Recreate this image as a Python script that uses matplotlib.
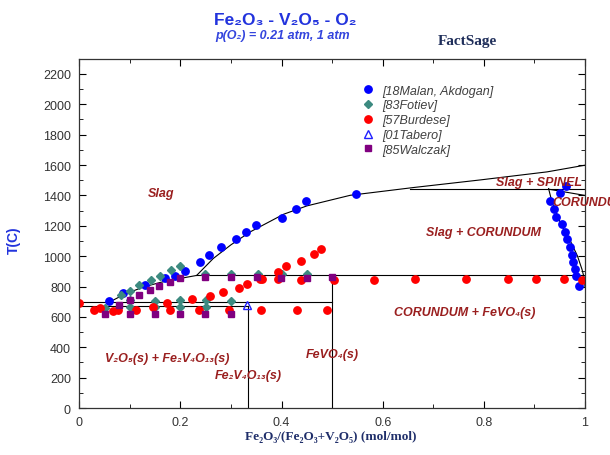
import numpy as np
import matplotlib
matplotlib.use('Agg')
import matplotlib.pyplot as plt
from matplotlib.ticker import MultipleLocator

plt.rcParams['font.family'] = ['Liberation Sans', 'DejaVu Sans']

# experimental points, x = Fe2O3/(Fe2O3+V2O5), T in C
malan_x = [0.058, 0.086, 0.129, 0.169, 0.190, 0.210, 0.238, 0.257, 0.280, 0.309,
           0.330, 0.350, 0.400, 0.429, 0.449, 0.548,
           0.930, 0.938, 0.942, 0.950, 0.955, 0.960, 0.963, 0.965, 0.970, 0.975,
           0.977, 0.980, 0.982, 0.989]
malan_t = [708, 757, 807, 856, 867, 905, 959, 1010, 1061, 1110,
           1160, 1207, 1254, 1311, 1362, 1410,
           1360, 1309, 1259, 1414, 1211, 1160, 1463, 1112, 1061, 1007,
           963, 914, 870, 805]

fotiev_x = [0.082, 0.100, 0.118, 0.141, 0.160, 0.182, 0.200,
            0.249, 0.300, 0.353, 0.400, 0.450,
            0.100, 0.150, 0.200, 0.250, 0.300,
            0.050, 0.100, 0.150, 0.200, 0.250]
fotiev_t = [745, 772, 811, 840, 872, 910, 934,
            880, 880, 885, 882, 885,
            710, 706, 710, 710, 706,
            660, 663, 665, 665, 663]

burdese_x = [0.0, 0.030, 0.040, 0.067, 0.077, 0.113, 0.146, 0.174, 0.179, 0.222,
             0.236, 0.258, 0.284, 0.297, 0.316, 0.332, 0.358, 0.362, 0.359, 0.392,
             0.392, 0.409, 0.430, 0.439, 0.439, 0.464, 0.478, 0.490, 0.504, 0.583,
             0.664, 0.765, 0.848, 0.904, 0.958, 0.994]
burdese_t = [692, 645, 660, 636, 648, 643, 666, 690, 643, 716,
             644, 735, 766, 644, 788, 819, 849, 849, 644, 849,
             896, 932, 644, 846, 966, 1013, 1048, 644, 846, 846,
             849, 849, 849, 849, 849, 846]

tabero_x = [0.331]
tabero_t = [680]

walczak_x = [0.050, 0.079, 0.100, 0.100, 0.118, 0.140, 0.158, 0.179, 0.199, 0.150,
             0.200, 0.249, 0.249, 0.300, 0.300, 0.352, 0.399, 0.450, 0.499]
walczak_t = [617, 680, 710, 622, 747, 777, 802, 827, 858, 618,
             618, 860, 622, 860, 622, 860, 853, 853, 866]

# calculated phase boundaries
liq_low_x = [0.058, 0.09, 0.126, 0.160, 0.192, 0.232]
liq_low_t = [695, 750, 796, 827, 849, 873]
liq_up_x = [0.232, 0.265, 0.300, 0.338, 0.404, 0.450, 0.536, 0.661, 0.793, 0.925, 1.0]
liq_up_t = [873, 985, 1075, 1160, 1276, 1331, 1401, 1452, 1502, 1555, 1599]
solvus_x = [0.928, 0.935, 0.951, 0.971, 0.985, 0.994, 0.999, 1.0]
solvus_t = [1445, 1353, 1222, 1101, 1002, 914, 849, 800]
spinel_x = [0.928, 1.0]
spinel_t = [1441, 1400]

T_spinel = 1445
T_fevo4 = 873
T_per = 695
T_eut = 672

fig = plt.figure(figsize=(6.1, 4.56), dpi=100)
ax = fig.add_axes([0.130, 0.103, 0.829, 0.766])

lc = 'black'
lw = 0.8
ax.plot(liq_low_x, liq_low_t, color=lc, lw=lw)
ax.plot(liq_up_x, liq_up_t, color=lc, lw=lw)
ax.plot(solvus_x, solvus_t, color=lc, lw=lw)
ax.plot(spinel_x, spinel_t, color=lc, lw=lw)
ax.plot([0.654, 1.0], [T_spinel, T_spinel], color=lc, lw=lw)
ax.plot([0.232, 1.0], [T_fevo4, T_fevo4], color=lc, lw=lw)
ax.plot([0.5, 0.5], [0, T_fevo4], color=lc, lw=lw)
ax.plot([0.0, 0.5], [T_per, T_per], color=lc, lw=lw)
ax.plot([0.0, 1 / 3], [T_eut, T_eut], color=lc, lw=lw)
ax.plot([1 / 3, 1 / 3], [0, T_eut], color=lc, lw=lw)

ms = 5.3
ax.plot(malan_x, malan_t, 'o', color='#0000FF', ms=ms, ls='none', label='[18Malan, Akdogan]')
ax.plot(fotiev_x, fotiev_t, 'D', color='#3C8A80', ms=ms - 1, ls='none', label='[83Fotiev]')
ax.plot(burdese_x, burdese_t, 'o', color='#FF0000', ms=ms, ls='none', label='[57Burdese]')
ax.plot(tabero_x, tabero_t, '^', mfc='none', mec='#2020FF', mew=1.0, ms=ms, ls='none',
        label='[01Tabero]')
ax.plot(walczak_x, walczak_t, 's', color='#800080', ms=ms - 1, ls='none', label='[85Walczak]')

leg = ax.legend(loc='upper left', bbox_to_anchor=(0.533, 0.958), frameon=False,
                prop={'style': 'italic', 'size': 9}, handletextpad=0.6,
                labelspacing=0.22, handlelength=1.2)
for t in leg.get_texts():
    t.set_color('#404040')

# phase field labels
pc = '#9A1F1F'
kw = dict(color=pc, fontsize=9, fontweight='bold', style='italic', ha='center', va='center')
ax.text(0.161, 1419, 'Slag', **kw)
ax.text(0.909, 1489, 'Slag + SPINEL', **kw)
ax.text(0.935, 1357, 'CORUNDUM', clip_on=False,
        **{**kw, 'ha': 'left'})
ax.text(0.80, 1156, 'Slag + CORUNDUM', **kw)
ax.text(0.763, 630, 'CORUNDUM + FeVO₄(s)', **kw)
ax.text(0.50, 355, 'FeVO₄(s)', **kw)
ax.text(0.173, 327, 'V₂O₅(s) + Fe₂V₄O₁₃(s)', **kw)
ax.text(0.334, 219, 'Fe₂V₄O₁₃(s)', **kw)

ax.set_xlim(0, 1)
ax.set_ylim(0, 2300)
ax.set_xticks([0, 0.2, 0.4, 0.6, 0.8, 1.0])
ax.set_xticklabels(['0', '0.2', '0.4', '0.6', '0.8', '1'])
ax.set_yticks(np.arange(0, 2201, 200))
ax.xaxis.set_minor_locator(MultipleLocator(0.1))
ax.yaxis.set_minor_locator(MultipleLocator(100))
ax.tick_params(which='both', direction='in', top=True, right=True,
               labelsize=9, labelcolor='#333333', pad=6)
ax.tick_params(which='major', length=5)
ax.tick_params(which='minor', length=3)
for s in ax.spines.values():
    s.set_linewidth(0.9)
    s.set_color('#333333')

fig.text(0.467, 0.956, 'Fe₂O₃ - V₂O₅ - O₂', color='#2233DD', fontsize=12.5,
         fontweight='bold', ha='center', va='center')
fig.text(0.464, 0.921, 'p(O₂) = 0.21 atm, 1 atm', color='#3344DD', fontsize=9,
         fontweight='bold', style='italic', ha='center', va='center')
fig.text(0.766, 0.910, 'FactSage', color='#1F2E5A', fontsize=11, fontweight='bold',
         family=['Liberation Serif', 'DejaVu Serif'], ha='center', va='center')
fig.text(0.023, 0.474, 'T(C)', color='#2233DD', fontsize=10, fontweight='bold',
         rotation=90, ha='center', va='center')
fig.text(0.543, 0.042, 'Fe₂O₃/(Fe₂O₃+V₂O₅) (mol/mol)', color='#1F2E6A', fontsize=9.5,
         fontweight='bold', family=['Liberation Serif', 'DejaVu Serif'],
         ha='center', va='center')

fig.savefig('out.png', dpi=100)
